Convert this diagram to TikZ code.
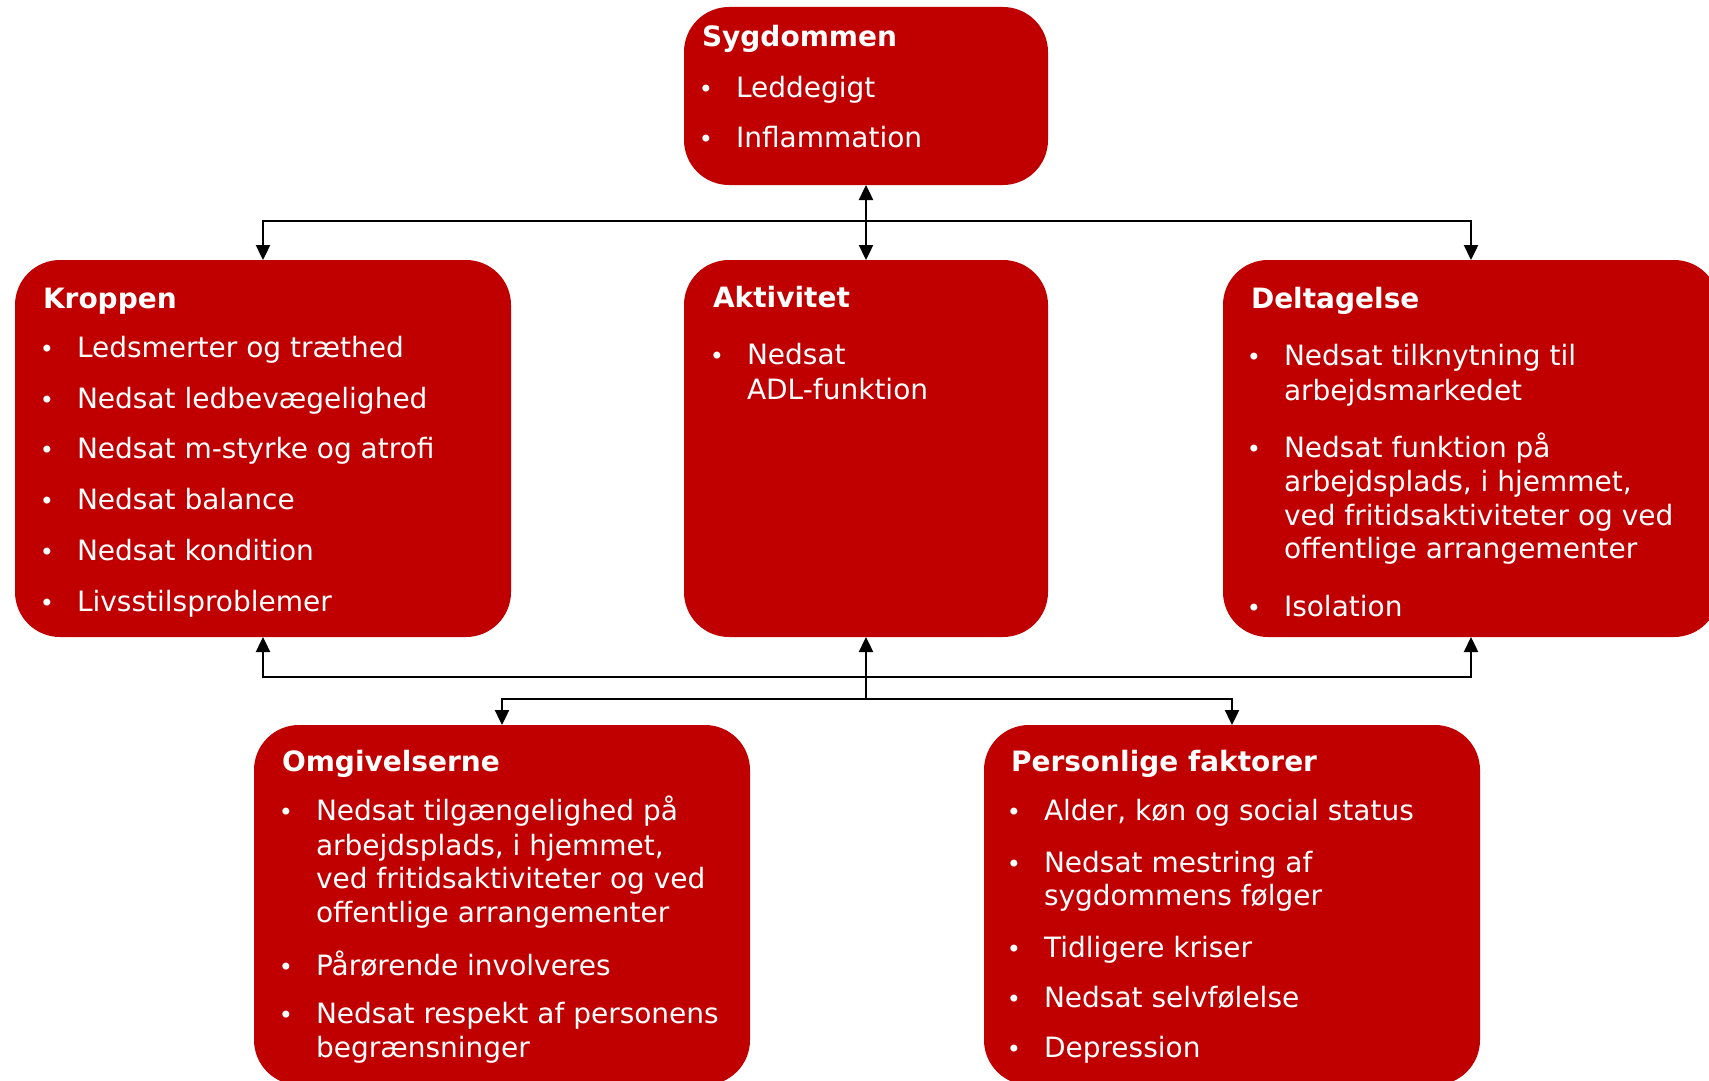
\documentclass[tikz,border=0pt]{standalone}
\usepackage{fontspec}
\setmainfont{DejaVu Sans}
\usetikzlibrary{arrows.meta}
\definecolor{boxred}{RGB}{192,0,0}
\tikzset{
  box/.style={fill=boxred, draw=none, rounded corners=45pt, inner sep=0pt, outer sep=0pt, anchor=north west},
  ttl/.style={text=white, inner sep=0pt, outer sep=0pt, anchor=base west, font=\fontsize{28}{34}\selectfont\bfseries},
  txt/.style={text=white, inner sep=0pt, outer sep=0pt, anchor=base west, font=\fontsize{28}{34}\selectfont},
  bul/.style={text=white, inner sep=0pt, outer sep=0pt, anchor=base, font=\fontsize{24}{30}\selectfont},
  conn/.style={line width=2.4pt, -{Triangle[length=15pt,width=14pt]}},
  dconn/.style={line width=2.4pt, {Triangle[length=15pt,width=14pt]}-{Triangle[length=15pt,width=14pt]}}
}
\newcommand\mkTitle[4]{\node[ttl] (#1) at (#2,#3) {#4};}
\newcommand\mkItem[4]{\node[bul] (#1-b) at ({#2-30},#3) {•};\node[txt] (#1) at (#2,#3) {#4};}
\newcommand\mkLine[4]{\node[txt] (#1) at (#2,#3) {#4};}
\begin{document}
\begin{tikzpicture}[x=1pt,y=-1pt]
\clip (0,0) rectangle (1709,1081);
\fill[white] (0,0) rectangle (1709,1081);
% boxes
\node[box, minimum width=364pt, minimum height=178pt] (syg) at (684,7) {};
\node[box, minimum width=496pt, minimum height=377pt] (krop) at (15,260) {};
\node[box, minimum width=364pt, minimum height=377pt] (akt) at (684,260) {};
\node[box, minimum width=496pt, minimum height=377pt] (delt) at (1223,260) {};
\node[box, minimum width=496pt, minimum height=360pt] (omg) at (254,725) {};
\node[box, minimum width=496pt, minimum height=360pt] (pers) at (984,725) {};
% connectors
\coordinate (jt) at (866,221);
\coordinate (jb1) at (866,677);
\coordinate (jb2) at (866,699);
\draw[dconn] (syg.south) -- (akt.north);
\draw[conn] (jt) -| (krop.north);
\draw[conn] (jt) -| (delt.north);
\draw[conn] (jb2) -- (akt.south);
\draw[conn] (jb1) -| (krop.south);
\draw[conn] (jb1) -| (delt.south);
\draw[conn] (jb2) -| (omg.north);
\draw[conn] (jb2) -| (pers.north);
% Sygdommen
\mkTitle{s0}{702}{47}{Sygdommen}
\mkItem{s1}{736}{97}{Leddegigt}
\mkItem{s2}{736}{147}{Inflammation}
% Kroppen
\mkTitle{k0}{43}{308}{Kroppen}
\mkItem{k1}{77}{357}{Ledsmerter og træthed}
\mkItem{k2}{77}{408}{Nedsat ledbevægelighed}
\mkItem{k3}{77}{458}{Nedsat m-styrke og atrofi}
\mkItem{k4}{77}{509}{Nedsat balance}
\mkItem{k5}{77}{560}{Nedsat kondition}
\mkItem{k6}{77}{611}{Livsstilsproblemer}
% Aktivitet
\mkTitle{a0}{713}{307}{Aktivitet}
\mkItem{a1}{747}{364}{Nedsat}
\mkLine{a1c}{747}{399}{ADL-funktion}
% Deltagelse
\mkTitle{d0}{1251}{308}{Deltagelse}
\mkItem{d1}{1284}{365}{Nedsat tilknytning til}
\mkLine{d1c}{1284}{400}{arbejdsmarkedet}
\mkItem{d2}{1284}{457}{Nedsat funktion på}
\mkLine{d2c}{1284}{491}{arbejdsplads, i hjemmet,}
\mkLine{d2d}{1284}{525}{ved fritidsaktiviteter og ved}
\mkLine{d2e}{1284}{558}{offentlige arrangementer}
\mkItem{d3}{1284}{616}{Isolation}
% Omgivelserne
\mkTitle{o0}{282}{771}{Omgivelserne}
\mkItem{o1}{316}{820}{Nedsat tilgængelighed på}
\mkLine{o1c}{316}{855}{arbejdsplads, i hjemmet,}
\mkLine{o1d}{316}{888}{ved fritidsaktiviteter og ved}
\mkLine{o1e}{316}{922}{offentlige arrangementer}
\mkItem{o2}{316}{975}{Pårørende involveres}
\mkItem{o3}{316}{1023}{Nedsat respekt af personens}
\mkLine{o3c}{316}{1057}{begrænsninger}
% Personlige faktorer
\mkTitle{p0}{1011}{771}{Personlige faktorer}
\mkItem{p1}{1044}{820}{Alder, køn og social status}
\mkItem{p2}{1044}{872}{Nedsat mestring af}
\mkLine{p2c}{1044}{905}{sygdommens følger}
\mkItem{p3}{1044}{957}{Tidligere kriser}
\mkItem{p4}{1044}{1007}{Nedsat selvfølelse}
\mkItem{p5}{1044}{1057}{Depression}
\end{tikzpicture}
\end{document}
